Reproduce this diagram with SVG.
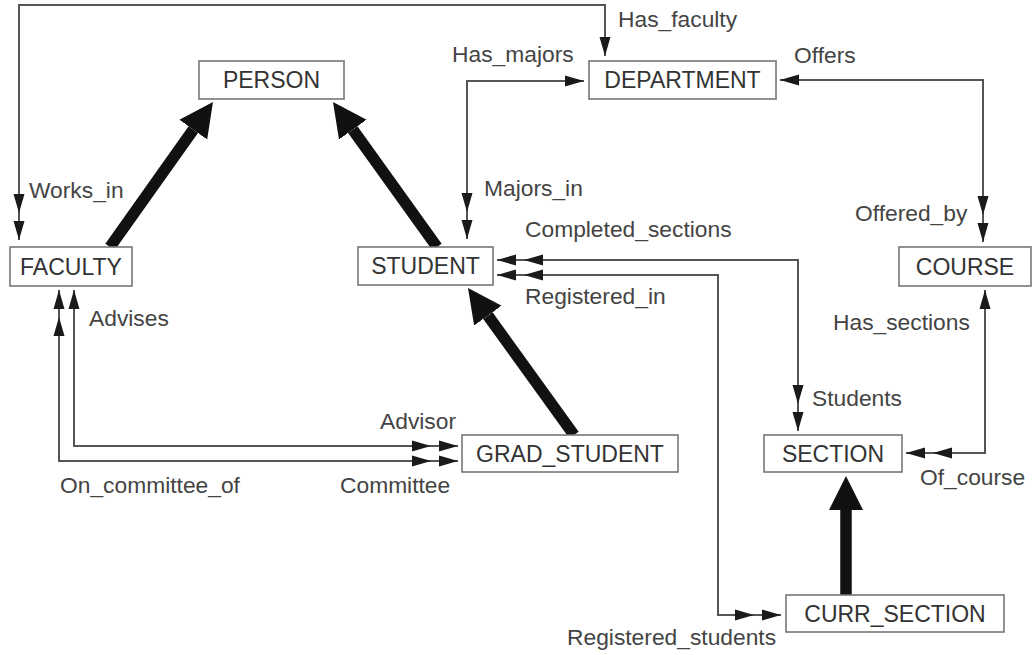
<svg xmlns="http://www.w3.org/2000/svg" width="1036" height="655" viewBox="0 0 1036 655">
<style>
.box{fill:#fff;stroke:#777;stroke-width:1.6}
.nt{font-family:"Liberation Sans",Arial,sans-serif;font-size:23px;fill:#333;text-anchor:middle}
.lb{font-family:"Liberation Sans",Arial,sans-serif;font-size:22.8px;fill:#444}
.ln{fill:none;stroke:#555;stroke-width:2}
.thick{stroke:#111;stroke-width:11.5;fill:none}
</style>
<defs>
<marker id="s" viewBox="-22 -7 24 14" markerWidth="24" markerHeight="14" refX="0" refY="0" orient="auto-start-reverse" markerUnits="userSpaceOnUse"><path d="M0,0 L-19,-5.5 L-19,5.5 Z" fill="#1a1a1a"/></marker>
<marker id="d" viewBox="-50 -7 52 14" markerWidth="52" markerHeight="14" refX="0" refY="0" orient="auto-start-reverse" markerUnits="userSpaceOnUse"><path d="M0,0 L-19,-5.5 L-19,5.5 Z M-27,0 L-46,-5.5 L-46,5.5 Z" fill="#1a1a1a"/></marker>
<marker id="big" viewBox="0 -18 36 36" markerWidth="36" markerHeight="36" refX="0" refY="0" orient="auto" markerUnits="userSpaceOnUse"><path d="M0,-17 L34,0 L0,17 Z" fill="#111"/></marker>
</defs>
<rect width="1036" height="655" fill="#fff"/>
<g id="connectors">
<path class="ln" d="M605,56 V5 H19 V240" marker-start="url(#s)" marker-end="url(#d)"/>
<path class="ln" d="M584,81 H467 V239" marker-start="url(#s)" marker-end="url(#d)"/>
<path class="ln" d="M780,80 H983 V242" marker-start="url(#s)" marker-end="url(#d)"/>
<path class="ln" d="M497,260 H798 V431" marker-start="url(#d)" marker-end="url(#d)"/>
<path class="ln" d="M497,275 H718 V615 H781" marker-start="url(#d)" marker-end="url(#d)"/>
<path class="ln" d="M985,290 V453 H906" marker-start="url(#s)" marker-end="url(#d)"/>
<path class="ln" d="M74,290 V446 H458" marker-start="url(#s)" marker-end="url(#d)"/>
<path class="ln" d="M59,290 V461 H458" marker-start="url(#d)" marker-end="url(#d)"/>
<line class="thick" x1="110" y1="247" x2="193.3" y2="129.7" marker-end="url(#big)"/>
<line class="thick" x1="437" y1="247" x2="352.8" y2="129.6" marker-end="url(#big)"/>
<line class="thick" x1="574" y1="435" x2="487.9" y2="315.6" marker-end="url(#big)"/>
<line class="thick" x1="846" y1="595" x2="846" y2="510" marker-end="url(#big)"/>
</g>
<g id="labels">
<text class="lb" x="618" y="27">Has_faculty</text>
<text class="lb" x="452" y="62">Has_majors</text>
<text class="lb" x="794" y="63">Offers</text>
<text class="lb" x="29" y="198">Works_in</text>
<text class="lb" x="484" y="196">Majors_in</text>
<text class="lb" x="525" y="237">Completed_sections</text>
<text class="lb" x="525" y="304">Registered_in</text>
<text class="lb" x="855" y="221">Offered_by</text>
<text class="lb" x="89" y="326">Advises</text>
<text class="lb" x="833" y="330">Has_sections</text>
<text class="lb" x="812" y="406">Students</text>
<text class="lb" x="380" y="429">Advisor</text>
<text class="lb" x="60" y="493">On_committee_of</text>
<text class="lb" x="340" y="493">Committee</text>
<text class="lb" x="920" y="485">Of_course</text>
<text class="lb" x="567" y="645">Registered_students</text>
</g>
<g id="PERSON"><rect class="box" x="199" y="61" width="145" height="38"/><text class="nt" x="271.5" y="88">PERSON</text></g>
<g id="DEPARTMENT"><rect class="box" x="589" y="61" width="187" height="38"/><text class="nt" x="682.5" y="88">DEPARTMENT</text></g>
<g id="FACULTY"><rect class="box" x="10" y="247" width="122" height="39"/><text class="nt" x="71" y="274.5">FACULTY</text></g>
<g id="STUDENT"><rect class="box" x="358" y="247" width="135" height="38"/><text class="nt" x="425.5" y="274">STUDENT</text></g>
<g id="COURSE"><rect class="box" x="899" y="247" width="132" height="39"/><text class="nt" x="965" y="274.5">COURSE</text></g>
<g id="GRAD_STUDENT"><rect class="box" x="462" y="435" width="216" height="37"/><text class="nt" x="570" y="461.5">GRAD_STUDENT</text></g>
<g id="SECTION"><rect class="box" x="764" y="435" width="138" height="37"/><text class="nt" x="833" y="461.5">SECTION</text></g>
<g id="CURR_SECTION"><rect class="box" x="786" y="595" width="218" height="37"/><text class="nt" x="895" y="621.5">CURR_SECTION</text></g>
</svg>
